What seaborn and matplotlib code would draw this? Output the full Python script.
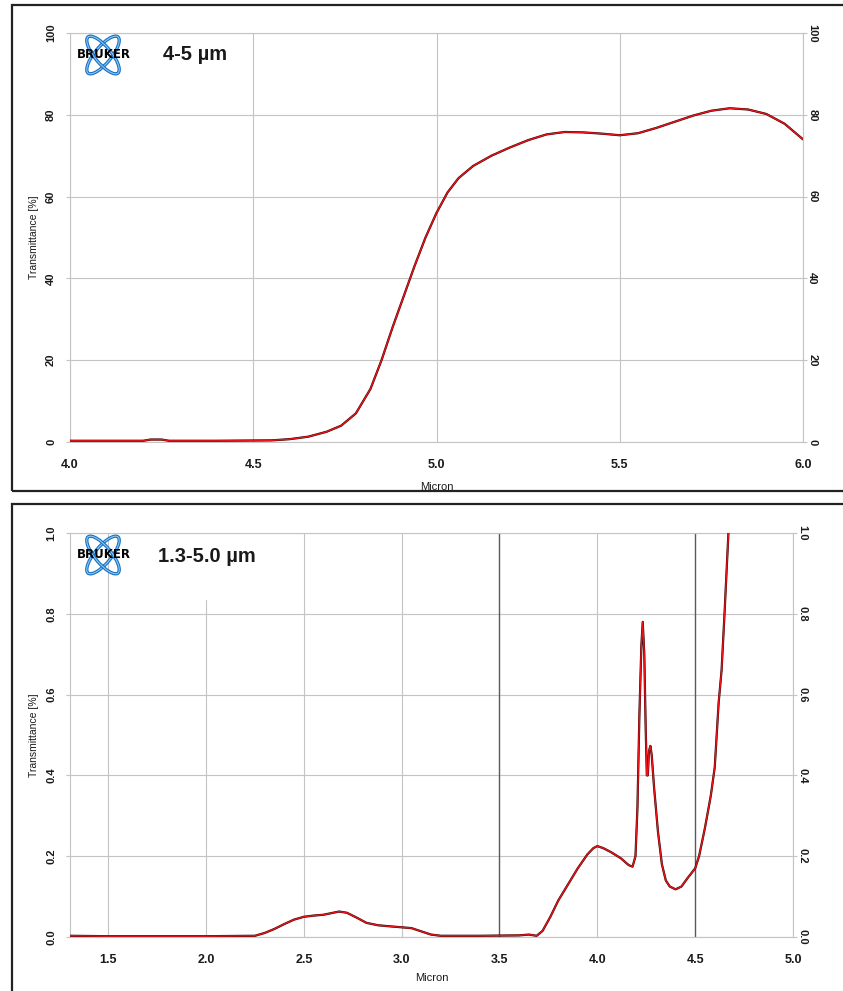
import numpy as np
import pandas as pd
import seaborn as sns
import matplotlib
matplotlib.use("Agg")
import matplotlib.pyplot as plt
from matplotlib.patches import Ellipse, Rectangle

# ---------------- data ----------------
top_title = "4-5 µm"
top_x = [4.00, 4.10, 4.20, 4.22, 4.25, 4.27, 4.40, 4.55, 4.60, 4.65, 4.70, 4.74, 4.78,
         4.82, 4.85, 4.88, 4.91, 4.94, 4.97, 5.00, 5.03, 5.06, 5.10, 5.15, 5.20, 5.25,
         5.30, 5.35, 5.40, 5.45, 5.50, 5.55, 5.60, 5.65, 5.70, 5.75, 5.80, 5.85, 5.90,
         5.95, 6.00]
top_y = [0.3, 0.3, 0.3, 0.6, 0.6, 0.3, 0.3, 0.4, 0.7, 1.3, 2.5, 4.0, 7.0,
         13.0, 20.0, 28.0, 35.5, 43.0, 50.0, 56.0, 61.0, 64.5, 67.5, 70.0, 72.0, 73.8,
         75.2, 75.8, 75.7, 75.4, 75.0, 75.5, 76.8, 78.3, 79.8, 81.0, 81.6, 81.3, 80.2,
         77.8, 74.0]
top_xticks = [4.0, 4.5, 5.0, 5.5, 6.0]
top_yticks = [0, 20, 40, 60, 80, 100]

bot_title = "1.3-5.0 µm"
bot_x = [1.30, 1.50, 2.00, 2.25, 2.30, 2.35, 2.40, 2.45, 2.50, 2.55, 2.60, 2.65, 2.68,
         2.72, 2.77, 2.82, 2.88, 2.95, 3.00, 3.05, 3.10, 3.15, 3.20, 3.40, 3.60, 3.65,
         3.69, 3.72, 3.76, 3.80, 3.85, 3.90, 3.95, 3.98, 4.00, 4.03, 4.07, 4.12, 4.16,
         4.18, 4.195, 4.205, 4.215, 4.225, 4.232, 4.240, 4.247, 4.253, 4.258, 4.264,
         4.271, 4.278, 4.29, 4.31, 4.33, 4.35, 4.37, 4.40, 4.43, 4.46, 4.50, 4.52, 4.55,
         4.58, 4.60, 4.62, 4.635, 4.65, 4.66, 4.67, 4.675]
bot_y = [0.003, 0.002, 0.002, 0.003, 0.010, 0.020, 0.032, 0.043, 0.050, 0.053, 0.055,
         0.060, 0.063, 0.060, 0.048, 0.035, 0.029, 0.026, 0.024, 0.022, 0.014, 0.006,
         0.003, 0.003, 0.004, 0.006, 0.003, 0.015, 0.050, 0.090, 0.130, 0.170, 0.205,
         0.220, 0.225, 0.220, 0.210, 0.195, 0.178, 0.174, 0.20, 0.32, 0.55, 0.72, 0.78,
         0.70, 0.52, 0.40, 0.40, 0.46, 0.473, 0.45, 0.37, 0.26, 0.18, 0.14, 0.125, 0.118,
         0.125, 0.145, 0.170, 0.200, 0.270, 0.350, 0.420, 0.580, 0.660, 0.800, 0.900,
         1.000, 1.02]
bot_xticks = [1.5, 2.0, 2.5, 3.0, 3.5, 4.0, 4.5, 5.0]
bot_yticks = [0.0, 0.2, 0.4, 0.6, 0.8, 1.0]
dark_grid_x = [3.5, 4.5]

x_label = "Micron"
y_label = "Transmittance [%]"

# ---------------- style ----------------
sns.set_theme(style="white")
plt.rcParams["font.family"] = ["Liberation Sans", "DejaVu Sans"]

W, H = 843, 991
fig = plt.figure(figsize=(W / 100, H / 100), dpi=100)


def px_rect(x0, y0, x1, y1):
    return [x0 / W, 1 - y1 / H, (x1 - x0) / W, (y1 - y0) / H]


GRID = "#c4c4c4"
RED = "#e8141a"
TXT = "#1a1a1a"


def draw_logo(x0, y0):
    lax = fig.add_axes(px_rect(x0, y0, x0 + 50, y0 + 46))
    lax.set_xlim(-1.1, 1.1)
    lax.set_ylim(-1.0, 1.0)
    lax.axis("off")
    for ang in (50, -50):
        lax.add_patch(Ellipse((0, 0), 2.05, 0.72, angle=ang, fill=False,
                              ec="#1a6fc4", lw=2.4))
        lax.add_patch(Ellipse((0, 0), 2.05, 0.72, angle=ang, fill=False,
                              ec="#86cbf2", lw=0.8))
    lax.text(0.05, 0.0, "BRUKER", ha="center", va="center", fontsize=8.5,
             fontweight="heavy", color="black", family="DejaVu Sans")


def setup(ax, xlim, ylim, xticks, yticks, fmt, title, labelpad, tpos,
          dark=(), partial=None):
    ax.set_xlim(*xlim)
    ax.set_ylim(*ylim)
    ax.set_xticks(xticks)
    ax.set_yticks(yticks)
    ax.set_xticklabels([f"{t:.1f}" for t in xticks], fontsize=9,
                       fontweight="bold", color=TXT)
    ax.set_yticklabels([fmt(t) for t in yticks], fontsize=8, rotation=90,
                       va="center", fontweight="bold", color=TXT)
    ax.tick_params(axis="x", length=3, color=GRID, width=0.8, pad=9)
    ax.tick_params(axis="y", length=3, color=GRID, width=0.8, pad=7)
    ax.grid(True, axis="y", color=GRID, lw=0.8)
    for x in xticks:
        if partial is not None and x == partial[0]:
            ax.axvline(x, ymax=partial[1], color=GRID, lw=0.8, zorder=0.8)
        elif x in dark:
            ax.axvline(x, color="#5a5a5a", lw=1.0, zorder=0.9)
        else:
            ax.axvline(x, color=GRID, lw=0.8, zorder=0.8)
    for s in ax.spines.values():
        s.set_color(GRID)
        s.set_linewidth(0.8)
    ax.set_xlabel(x_label, fontsize=8, labelpad=labelpad, color=TXT)
    ax.set_ylabel(y_label, fontsize=7.5, labelpad=5, color=TXT)
    ax.text(tpos[0], tpos[1], title, transform=ax.transAxes, fontsize=14.5,
            fontweight="bold", ha="left", va="center", color=TXT)
    # right-hand labels
    axr = ax.twinx()
    axr.set_ylim(*ylim)
    axr.set_yticks(yticks)
    axr.set_yticklabels([fmt(t) for t in yticks], fontsize=8, rotation=-90,
                        va="center", fontweight="bold", color=TXT)
    axr.tick_params(axis="y", length=3, color=GRID, width=0.8, pad=0)
    for s in axr.spines.values():
        s.set_visible(False)
    axr.grid(False)


# outer frames
fig.add_artist(Rectangle((12 / W, 1 - 491 / H), 840 / W, 486 / H,
                         transform=fig.transFigure, fill=False, ec="#222222", lw=1.6))
fig.add_artist(Rectangle((12 / W, 1 - 1000 / H), 840 / W, 496 / H,
                         transform=fig.transFigure, fill=False, ec="#222222", lw=1.6))

# top panel
ax1 = fig.add_axes(px_rect(70, 33, 803, 442))
df_top = pd.DataFrame({"x": top_x, "y": top_y})
sns.lineplot(data=df_top, x="x", y="y", ax=ax1, color="#300000", lw=1.6, zorder=3)
sns.lineplot(data=df_top, x="x", y="y", ax=ax1, color=RED, lw=1.0, zorder=4)
setup(ax1, (4.0, 6.0), (0, 100), top_xticks, top_yticks, lambda t: f"{t:.0f}",
      top_title, labelpad=8, tpos=(0.127, 0.947))

# bottom panel
ax2 = fig.add_axes(px_rect(70, 533, 793, 937))
df_bot = pd.DataFrame({"x": bot_x, "y": bot_y})
sns.lineplot(data=df_bot, x="x", y="y", ax=ax2, color="#300000", lw=1.6, zorder=3)
sns.lineplot(data=df_bot, x="x", y="y", ax=ax2, color=RED, lw=1.0, zorder=4)
setup(ax2, (1.305, 5.0), (0, 1.0), bot_xticks, bot_yticks, lambda t: f"{t:.1f}",
      bot_title, labelpad=5, tpos=(0.122, 0.943), dark=dark_grid_x,
      partial=(2.0, 0.835))

draw_logo(78, 32)
draw_logo(78, 532)

fig.savefig("out.png", dpi=100)
